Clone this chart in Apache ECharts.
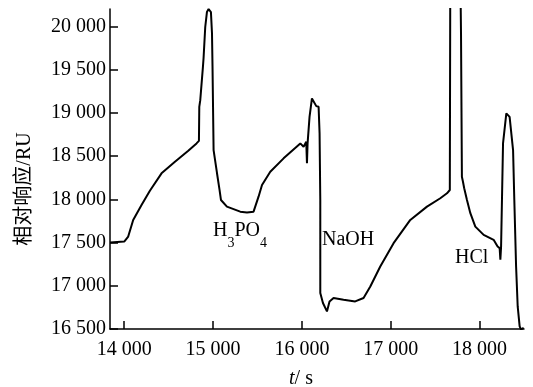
<!DOCTYPE html>
<html>
<head>
<meta charset="utf-8">
<script src="https://cdn.jsdelivr.net/npm/echarts@6/dist/echarts.min.js"></script>
<style>
html,body{margin:0;padding:0;background:#fff;}
#chart{width:533px;height:387px;}
</style>
</head>
<body>
<div id="chart"></div>
<script>
// time (s)
const tValues = [13842, 14000, 14045, 14101, 14195, 14289, 14420, 14571, 14721, 14814, 14841,
  14845, 14845, 14856, 14886, 14893, 14912, 14931, 14950, 14962, 14976, 14988, 14994, 15006,
  15044, 15073, 15089, 15156, 15306, 15382, 15456, 15512, 15551, 15644, 15794, 15982, 16019,
  16049, 16057, 16064, 16086, 16113, 16131, 16162, 16188, 16199, 16207, 16207, 16237, 16282,
  16311, 16356, 16469, 16600, 16694, 16770, 16882, 17032, 17220, 17408, 17558, 17633, 17651,
  17665, 17671, 17780, 17791, 17801, 17813, 17827, 17858, 17896, 17952, 18046, 18158, 18203,
  18226, 18234, 18242, 18264, 18279, 18301, 18316, 18338, 18354, 18377, 18391, 18411, 18429,
  18451, 18466, 18496];
// relative response (RU)
const ruValues = [17500, 17511, 17569, 17761, 17934, 18099, 18300, 18434, 18561, 18646, 18676,
  18684, 19069, 19146, 19530, 19631, 19992, 20165, 20200, 20200, 20165, 19919, 19530, 18569,
  18304, 18108, 17992, 17915, 17857, 17846, 17857, 18030, 18165, 18319, 18473, 18646, 18607,
  18665, 18416, 18646, 18953, 19166, 19184, 19077, 19069, 18765, 17992, 16915, 16800, 16703,
  16819, 16858, 16838, 16819, 16858, 16992, 17222, 17492, 17761, 17915, 18012, 18069, 18081,
  18107, 20900, 20900, 19920, 18261, 18203, 18127, 17992, 17839, 17684, 17588, 17531, 17453,
  17435, 17300, 17453, 18646, 18665, 18993, 19011, 18953, 18935, 18569, 17992, 17222, 16761,
  16530, 16495, 16512];
// ticks
const xTickValues = [14000, 15000, 16000, 17000, 18000];
const xTickLabels = ['14 000', '15 000', '16 000', '17 000', '18 000'];
const yTickValues = [16500, 17000, 17500, 18000, 18500, 19000, 19500, 20000];
const yTickLabels = ['16 500', '17 000', '17 500', '18 000', '18 500', '19 000', '19 500', '20 000'];
const yAxisTitle = '相对响应/RU';
const annotations = [
  { text: '{n|H}{s|3}{n|PO}{s|4}' },
  { text: '{n|NaOH}' },
  { text: '{n|HCl}' }
];

const serif = "'Liberation Serif','Noto Sans CJK SC',serif";
const seriesData = tValues.map((t, i) => [t, ruValues[i]]);

const chart = echarts.init(document.getElementById('chart'), null, { renderer: 'canvas' });

const richStyles = {
  n: { fontSize: 20, fontFamily: serif, color: '#000', verticalAlign: 'top', lineHeight: 20 },
  s: { fontSize: 14, fontFamily: serif, color: '#000', verticalAlign: 'top', lineHeight: 14, padding: [15, 0, 0, 0] }
};

const option = {
  animation: false,
  backgroundColor: '#fff',
  grid: { left: 110, right: 9, top: 9, bottom: 58, containLabel: false },
  xAxis: {
    type: 'value', min: 13840, max: 18500,
    axisLine: { show: true, lineStyle: { color: '#000', width: 1.5 } },
    axisTick: { show: true, inside: true, length: 8, lineStyle: { color: '#000', width: 1.5 }, customValues: xTickValues },
    axisLabel: {
      customValues: xTickValues, margin: 11, color: '#000', fontSize: 20, fontFamily: serif,
      formatter: v => { const i = xTickValues.indexOf(v); return i >= 0 ? xTickLabels[i] : ''; }
    },
    splitLine: { show: false }
  },
  yAxis: {
    type: 'value', min: 16500, max: 20200,
    axisLine: { show: true, lineStyle: { color: '#000', width: 1.5 } },
    axisTick: { show: true, inside: true, length: 8, lineStyle: { color: '#000', width: 1.5 }, customValues: yTickValues },
    axisLabel: {
      customValues: yTickValues, margin: 4, color: '#000', fontSize: 20, fontFamily: serif,
      formatter: v => { const i = yTickValues.indexOf(v); return i >= 0 ? yTickLabels[i] : ''; }
    },
    splitLine: { show: false }
  },
  series: [{
    type: 'line', data: seriesData, showSymbol: false, symbol: 'none', clip: true,
    lineStyle: { color: '#000', width: 2 }, smooth: false
  }],
  graphic: [
    { type: 'text', x: 25, y: 189, rotation: Math.PI / 2,
      style: { text: yAxisTitle, fontSize: 20, fontFamily: serif, fill: '#000', align: 'center', verticalAlign: 'middle' } },
    { type: 'text', x: 301, y: 379,
      style: { text: '{i|t}{n|/ s}', align: 'center', verticalAlign: 'middle',
        rich: { i: { fontSize: 20, fontFamily: serif, fontStyle: 'italic', color: '#000' },
                n: { fontSize: 20, fontFamily: serif, color: '#000' } } } },
    { type: 'text', x: 213, y: 221, style: { text: annotations[0].text, align: 'left', verticalAlign: 'top', rich: richStyles } },
    { type: 'text', x: 322, y: 230, style: { text: annotations[1].text, align: 'left', verticalAlign: 'top', rich: richStyles } },
    { type: 'text', x: 455, y: 248, style: { text: annotations[2].text, align: 'left', verticalAlign: 'top', rich: richStyles } }
  ]
};
chart.setOption(option);
</script>
</body>
</html>
